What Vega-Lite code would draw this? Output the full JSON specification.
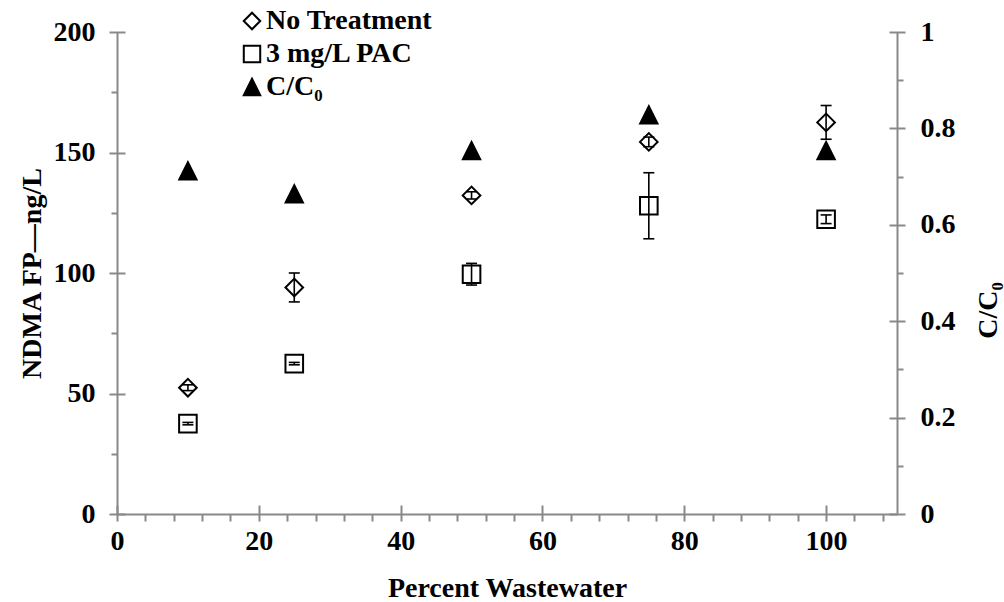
{
  "$schema": "https://vega.github.io/schema/vega-lite/v6.json",
  "width": 780,
  "height": 482,
  "autosize": {"type": "none"},
  "padding": {"left": 117, "top": 32, "right": 107, "bottom": 88},
  "background": "white",
  "config": {
    "view": {"stroke": null},
    "font": "Liberation Serif",
    "axis": {
      "grid": false,
      "domainColor": "#898989",
      "domainWidth": 2,
      "tickColor": "#898989",
      "tickWidth": 2,
      "labelFont": "Liberation Serif",
      "labelFontWeight": "bold",
      "labelFontSize": 28,
      "labelColor": "black",
      "labelOverlap": false,
      "labelFlush": false,
      "labelBound": false,
      "titleFont": "Liberation Serif",
      "titleFontWeight": "bold",
      "titleFontSize": 28,
      "titleColor": "black"
    },
    "legend": {
      "labelFont": "Liberation Serif",
      "labelFontWeight": "bold",
      "labelFontSize": 28,
      "labelColor": "black",
      "labelLimit": 0
    }
  },
  "datasets": {
    "allpts": [
      {"pct": 10, "series": "No Treatment", "value": 52.4, "lo": 51.2, "hi": 53.6},
      {"pct": 25, "series": "No Treatment", "value": 94, "lo": 88, "hi": 100},
      {"pct": 50, "series": "No Treatment", "value": 132.2, "lo": 130.7, "hi": 133.7},
      {"pct": 75, "series": "No Treatment", "value": 154.4, "lo": 152.4, "hi": 156.4},
      {"pct": 100, "series": "No Treatment", "value": 162.5, "lo": 155.5, "hi": 169.5},
      {"pct": 10, "series": "3 mg/L PAC", "value": 37.5, "lo": 37, "hi": 38},
      {"pct": 25, "series": "3 mg/L PAC", "value": 62.4, "lo": 61.9, "hi": 62.9},
      {"pct": 50, "series": "3 mg/L PAC", "value": 99.5, "lo": 95, "hi": 104},
      {"pct": 75, "series": "3 mg/L PAC", "value": 127.9, "lo": 114.2, "hi": 141.6},
      {"pct": 100, "series": "3 mg/L PAC", "value": 122.3, "lo": 120.5, "hi": 124.1},
      {"pct": 10, "series": "C/C₀", "value": 0.712},
      {"pct": 25, "series": "C/C₀", "value": 0.664},
      {"pct": 50, "series": "C/C₀", "value": 0.754},
      {"pct": 75, "series": "C/C₀", "value": 0.828},
      {"pct": 100, "series": "C/C₀", "value": 0.754}
    ]
  },
  "data": {"name": "allpts"},
  "encoding": {
    "x": {
      "field": "pct", "type": "quantitative",
      "scale": {"domain": [0, 110], "nice": false, "zero": false},
      "axis": {
        "title": "Percent Wastewater",
        "values": [0, 4, 8, 12, 16, 20, 24, 28, 32, 36, 40, 44, 48, 52, 56, 60, 64, 68, 72, 76, 80, 84, 88, 92, 96, 100, 104, 108],
        "labelExpr": "datum.value % 20 === 0 ? datum.label : ''",
        "tickSize": 7,
        "encoding": {"ticks": {"y": {"condition": {"test": "datum.value % 20 === 0", "value": -9}, "value": 0}}},
        "labelPadding": 6,
        "titleX": 390,
        "titleY": 74,
        "titleBaseline": "middle",
        "titleAlign": "center"
      }
    }
  },
  "layer": [
    {
      "transform": [{"filter": "datum.series !== 'C/C₀'"}],
      "layer": [
        {
          "mark": {"type": "point", "filled": true, "strokeWidth": 2, "opacity": 1, "size": 310},
          "encoding": {
            "y": {
              "field": "value", "type": "quantitative",
              "scale": {"domain": [0, 200], "nice": false, "zero": false},
              "axis": {
                "title": "NDMA FP—ng/L",
                "values": [0, 25, 50, 75, 100, 125, 150, 175, 200],
                "labelExpr": "datum.value % 50 === 0 ? datum.label : ''",
                "tickSize": {"condition": {"test": "datum.value % 50 === 0", "value": 8}, "value": 6},
                "encoding": {"ticks": {"x": {"condition": {"test": "datum.value % 50 === 0", "value": 8}, "value": 0}}},
                "labelPadding": 14,
                "titleX": -85,
                "titleY": 241,
                "titleAngle": 270,
                "titleBaseline": "middle",
                "titleAlign": "center"
              }
            },
            "shape": {
              "field": "series", "type": "nominal",
              "scale": {"domain": ["No Treatment", "3 mg/L PAC", "C/C₀"], "range": ["diamond", "square", "M0,-1L1,1L-1,1Z"]},
              "legend": {
                "title": null, "orient": "none", "legendX": 121, "legendY": -25,
                "padding": 0, "rowPadding": 5, "labelOffset": 0, "symbolSize": 270,
                "symbolStrokeWidth": 2, "labelLimit": 0
              }
            },
            "fill": {
              "field": "series", "type": "nominal",
              "scale": {"domain": ["No Treatment", "3 mg/L PAC", "C/C₀"], "range": ["white", "white", "black"]},
              "legend": {
                "title": null, "orient": "none", "legendX": 121, "legendY": -25,
                "padding": 0, "rowPadding": 5, "labelOffset": 0, "symbolSize": 270,
                "symbolStrokeWidth": 2, "labelLimit": 0
              }
            },
            "stroke": {
              "field": "series", "type": "nominal",
              "scale": {"domain": ["No Treatment", "3 mg/L PAC", "C/C₀"], "range": ["black", "black", "black"]},
              "legend": {
                "title": null, "orient": "none", "legendX": 121, "legendY": -25,
                "padding": 0, "rowPadding": 5, "labelOffset": 0, "symbolSize": 270,
                "symbolStrokeWidth": 2, "labelLimit": 0
              }
            }
          }
        },
        {
          "mark": {"type": "rule", "color": "black", "strokeWidth": 1.6},
          "encoding": {
            "y": {"field": "lo", "type": "quantitative"},
            "y2": {"field": "hi"}
          }
        },
        {
          "mark": {"type": "tick", "orient": "horizontal", "size": 11, "thickness": 1.6, "color": "black", "opacity": 1},
          "encoding": {
            "y": {"field": "lo", "type": "quantitative"}
          }
        },
        {
          "mark": {"type": "tick", "orient": "horizontal", "size": 11, "thickness": 1.6, "color": "black", "opacity": 1},
          "encoding": {
            "y": {"field": "hi", "type": "quantitative"}
          }
        }
      ]
    },
    {
      "transform": [{"filter": "datum.series === 'C/C₀'"}],
      "mark": {"type": "point", "filled": true, "opacity": 1, "strokeWidth": 2, "size": 300},
      "encoding": {
        "y": {
          "field": "value", "type": "quantitative",
          "scale": {"domain": [0, 1], "nice": false, "zero": false},
          "axis": {
            "orient": "right",
            "title": "C/C₀",
            "values": [0, 0.1, 0.2, 0.3, 0.4, 0.5, 0.6, 0.7, 0.8, 0.9, 1],
            "labelExpr": "round(datum.value * 10) % 2 === 0 ? format(datum.value, '~g') : ''",
            "tickSize": {"condition": {"test": "round(datum.value * 10) % 2 === 0", "value": 8}, "value": 6},
            "encoding": {"ticks": {"x": {"condition": {"test": "round(datum.value * 10) % 2 === 0", "value": -8}, "value": 0}}},
            "labelPadding": 15,
            "titleX": 91,
            "titleY": 278,
            "titleAngle": 270,
            "titleBaseline": "middle",
            "titleAlign": "center"
          }
        },
        "shape": {
          "field": "series", "type": "nominal",
          "legend": {
            "title": null, "orient": "none", "legendX": 121, "legendY": -25,
            "padding": 0, "rowPadding": 5, "labelOffset": 0, "symbolSize": 270,
            "symbolStrokeWidth": 2, "labelLimit": 0
          }
        },
        "fill": {
          "field": "series", "type": "nominal",
          "legend": {
            "title": null, "orient": "none", "legendX": 121, "legendY": -25,
            "padding": 0, "rowPadding": 5, "labelOffset": 0, "symbolSize": 270,
            "symbolStrokeWidth": 2, "labelLimit": 0
          }
        },
        "stroke": {
          "field": "series", "type": "nominal",
          "legend": {
            "title": null, "orient": "none", "legendX": 121, "legendY": -25,
            "padding": 0, "rowPadding": 5, "labelOffset": 0, "symbolSize": 270,
            "symbolStrokeWidth": 2, "labelLimit": 0
          }
        }
      }
    }
  ],
  "resolve": {"scale": {"y": "independent"}}
}
